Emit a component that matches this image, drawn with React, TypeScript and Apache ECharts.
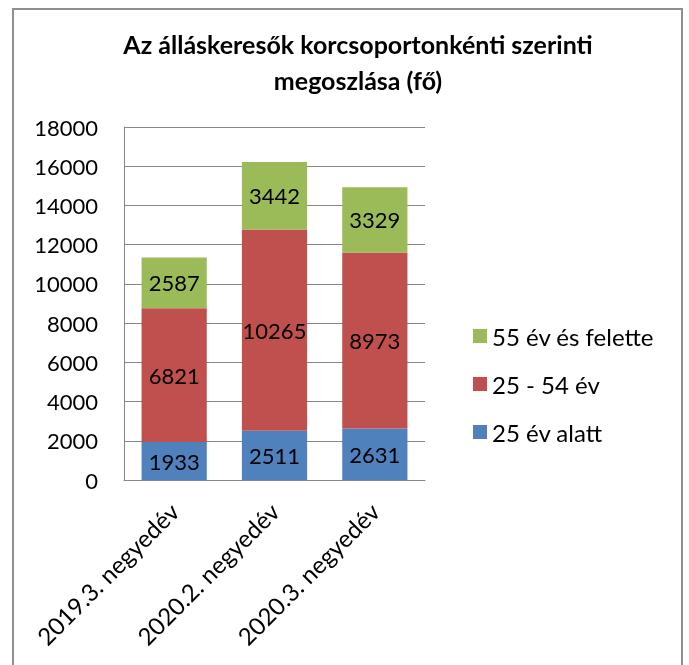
import React, { useEffect, useRef } from "react";
import * as echarts from "echarts";

const categories = ["2019.3. negyedév", "2020.2. negyedév", "2020.3. negyedév"];
const under25 = [1933, 2511, 2631];
const mid25to54 = [6821, 10265, 8973];
const over55 = [2587, 3442, 3329];
const seriesNames = ["25 év alatt", "25 - 54 év", "55 év és felette"];
const colors = ["#4F81BD", "#C0504D", "#9BBB59"];

export default function App() {
  const ref = useRef<HTMLDivElement>(null);
  useEffect(() => {
    if (!ref.current) return;
    const chart = echarts.init(ref.current, undefined, { renderer: "svg" });
    const font = "Lato, 'Open Sans', sans-serif";
    const mk = (name: string, data: number[], color: string) => ({
      name,
      type: "bar",
      stack: "total",
      data,
      barCategoryGap: "35%",
      itemStyle: { color },
      label: {
        show: true,
        position: "inside",
        color: "#000",
        fontSize: 22,
        fontFamily: font,
      },
    });
    chart.setOption({
      animation: false,
      textStyle: { fontFamily: font },
      title: {
        text: "Az álláskeresők korcsoportonkénti szerinti\nmegoszlása (fő)",
        left: 353,
        textAlign: "center",
        top: 21,
        textStyle: { fontSize: 25, fontWeight: "bold", color: "#000", lineHeight: 36, fontFamily: font },
      },
      graphic: [
        {
          type: "rect",
          shape: { x: 13, y: 9, width: 669, height: 700 },
          style: { fill: "none", stroke: "#8f8f8f", lineWidth: 2 },
          silent: true,
        },
      ],
      legend: {
        orient: "vertical",
        left: 468,
        top: 319,
        itemWidth: 14,
        itemHeight: 14,
        itemGap: 24,
        icon: "rect",
        data: [seriesNames[2], seriesNames[1], seriesNames[0]],
        textStyle: { fontSize: 24, color: "#000", fontFamily: font },
      },
      grid: { left: 124, right: 264, top: 127, bottom: 185, containLabel: false },
      xAxis: {
        type: "category",
        data: categories,
        axisLine: { lineStyle: { color: "#868686" } },
        axisTick: { show: false },
        axisLabel: { rotate: 45, fontSize: 24, color: "#000", margin: 27, fontFamily: font, interval: 0 },
      },
      yAxis: {
        type: "value",
        min: 0,
        max: 18000,
        interval: 2000,
        axisLine: { show: true, lineStyle: { color: "#868686" } },
        axisTick: { show: false },
        splitLine: { lineStyle: { color: "#868686" } },
        axisLabel: { fontSize: 22, color: "#000", margin: 26, fontFamily: font, formatter: (v: number) => String(v) },
      },
      series: [
        mk(seriesNames[0], under25, colors[0]),
        mk(seriesNames[1], mid25to54, colors[1]),
        mk(seriesNames[2], over55, colors[2]),
      ],
    });
    return () => chart.dispose();
  }, []);
  return <div ref={ref} style={{ position: "fixed", left: 0, top: 0, width: 689, height: 665 }} />;
}
